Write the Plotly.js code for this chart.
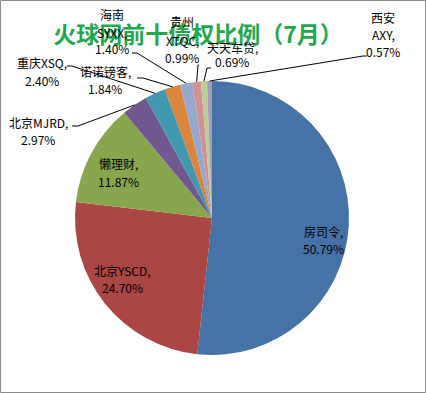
<!DOCTYPE html>
<html>
<head>
<meta charset="utf-8">
<script src="https://cdn.plot.ly/plotly-3.0.1.min.js"></script>
<style>
html,body{margin:0;padding:0;background:#fff;}
#chart{width:426px;height:393px;}
</style>
</head>
<body>
<div id="chart"></div>
<script>
// ---- data ----
var names = ["房司令", "北京YSCD", "懒理财", "北京MJRD", "重庆XSQ", "诺诺镑客", "海南\nSYXX", "贵州\nXTQC", "天天车贷", "西安\nAXY"];
var values = [50.79, 24.70, 11.87, 2.97, 2.40, 1.84, 1.40, 0.99, 0.69, 0.57];
var pctText = ["50.79%", "24.70%", "11.87%", "2.97%", "2.40%", "1.84%", "1.40%", "0.99%", "0.69%", "0.57%"];
var colors = ["#4572A7", "#AA4643", "#89A54E", "#71588F", "#4198AF", "#DB843D", "#93A9CF", "#D19392", "#B9CD96", "#A99BBD"];
var titleText = "火球网前十债权比例（7月）";

// ---- layout constants (pixels) ----
var W = 426, H = 393;
var CX = 212, CY = 218, R = 137;
// label positions: [x center, y of first line, line step]
var labelPos = [
  [323, 232, 17], [122, 270, 17], [118, 163, 18], [38, 122, 17], [42, 63, 17],
  [105, 72, 17], [112, 15, 17], [182, 22, 18], [232, 47, 15], [383, 17, 17]
];
// leader line anchors near labels: [x start, x stub end, y] (null = no leader)
var leaderAnchor = [null, null, null,
  [72, 78, 126], [67, 72, 66], [137, 143, 78], [132, 137, 53],
  [199, 198, 65], [211, 207, 68], [367, 363, 56]];

function px(x) { return x / W; }
function py(y) { return 1 - y / H; }

var total = values.reduce(function (a, b) { return a + b; }, 0);
var annotations = [];
var shapes = [];
var cum = 0;
values.forEach(function (v, i) {
  var mid = (cum + v / 2) / total;
  cum += v;
  var ang = mid * 2 * Math.PI; // clockwise from 12 o'clock
  var ex = CX + R * Math.sin(ang);
  var ey = CY - R * Math.cos(ang);
  var lines = (names[i] + ",").split("\n").concat([pctText[i]]);
  var p = labelPos[i];
  lines.forEach(function (t, k) {
    annotations.push({
      text: t, showarrow: false, xref: "paper", yref: "paper",
      x: px(p[0]), y: py(p[1] + k * p[2]), xanchor: "center", yanchor: "middle",
      font: {family: "Noto Sans CJK SC, sans-serif", size: 12, color: "#000"}
    });
  });
  var a = leaderAnchor[i];
  if (a) {
    shapes.push({
      type: "path", xref: "paper", yref: "paper",
      path: "M " + px(a[0]) + " " + py(a[2]) + " L " + px(a[1]) + " " + py(a[2]) + " L " + px(ex) + " " + py(ey),
      line: {color: "#000", width: 1}
    });
  }
});

shapes.push({
  type: "rect", xref: "paper", yref: "paper",
  x0: px(0.5), x1: px(W - 0.5), y0: py(H - 0.5), y1: py(0.5),
  line: {color: "#8a8a8a", width: 1}
});

var trace = {
  type: "pie",
  labels: names.map(function (n) { return n.replace("\n", ""); }),
  values: values,
  sort: false,
  direction: "clockwise",
  rotation: 0,
  textinfo: "none",
  hoverinfo: "label+percent",
  marker: {colors: colors, line: {width: 0}},
  domain: {x: [px(CX - R), px(CX + R)], y: [py(CY + R), py(CY - R)]},
  showlegend: false
};

var layout = {
  width: W, height: H,
  margin: {l: 0, r: 0, t: 0, b: 0},
  paper_bgcolor: "#fff",
  title: {
    text: "<b>" + titleText + "</b>",
    x: px(198), y: py(35), xanchor: "center", yanchor: "middle",
    xref: "paper", yref: "container",
    font: {family: "Noto Sans CJK SC, sans-serif", size: 23, color: "#1FA84C"}
  },
  annotations: annotations,
  shapes: shapes,
  showlegend: false
};

Plotly.newPlot("chart", [trace], layout, {displayModeBar: false, staticPlot: true});
</script>
</body>
</html>
